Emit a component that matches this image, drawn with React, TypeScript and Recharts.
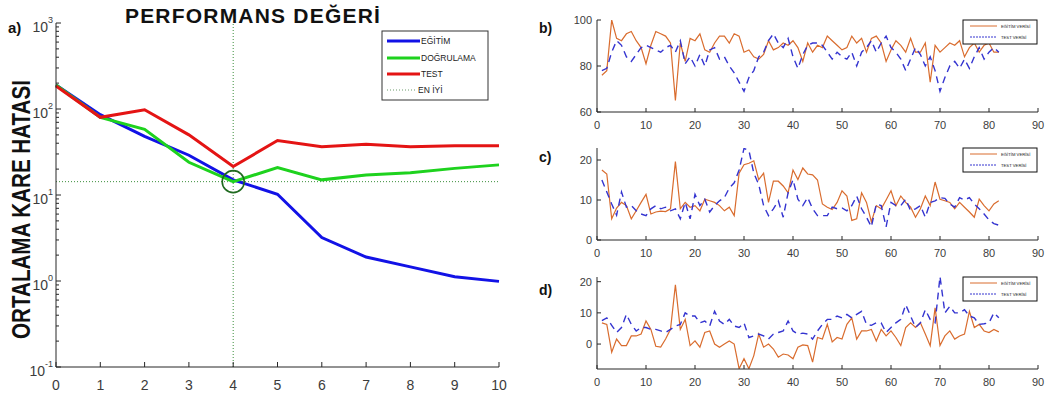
import React from 'react';
import { LineChart, Line, XAxis, YAxis, ReferenceLine, ReferenceDot } from 'recharts';

const FONT = '"Liberation Sans", Arial, sans-serif';
const AXIS = '#262626';
const LABEL = '#3c3c3c';

// a) performance curve (log scale)
const epochs = [0, 1, 2, 3, 4, 5, 6, 7, 8, 9, 10];
const egitimMse = [190, 86, 48, 29, 15, 10.2, 3.2, 1.9, 1.46, 1.12, 0.99];
const dogrulamaMse = [190, 80, 58, 24, 14.3, 20.8, 15, 17.1, 18.2, 20.4, 22.4];
const testMse = [185, 80, 98, 50, 21.4, 43, 36.5, 39, 36.5, 37.5, 37.5];
const bestEpoch = 4;
const bestMse = 14.3;
const decadeTicks = [0.1, 1, 10, 100, 1000];
const minorTicks = [
  0.2, 0.3, 0.4, 0.5, 0.6, 0.7, 0.8, 0.9,
  2, 3, 4, 5, 6, 7, 8, 9,
  20, 30, 40, 50, 60, 70, 80, 90,
  200, 300, 400, 500, 600, 700, 800, 900,
];

// b) c) d) sample series
const sampleNo = Array.from({ length: 82 }, (_, i) => i + 1);
const sampleTicks = [0, 10, 20, 30, 40, 50, 60, 70, 80, 90];

const bEgitim = [
  76, 78, 100, 92, 91, 94, 95, 91, 88, 81, 89, 95, 94, 93, 90, 65, 90, 82, 92, 91,
  94, 87, 86, 90, 93, 93, 90, 94, 93, 86, 87, 84, 83, 85, 91, 87, 88, 90, 89, 91,
  88, 82, 90, 86, 89, 88, 93, 91, 89, 87, 88, 93, 90, 92, 86, 92, 93, 90, 82, 87,
  91, 89, 86, 92, 86, 86, 90, 73, 89, 86, 88, 90, 89, 91, 84, 88, 90, 86, 89, 90,
  86, 86,
];
const bTest = [
  78, 79, 86, 91, 89, 84, 82, 85, 88, 89, 88, 87, 86, 88, 89, 86, 91, 81, 84, 80,
  85, 80, 87, 88, 83, 84, 80, 77, 73, 69, 75, 78, 84, 86, 91, 94, 90, 88, 92, 84,
  79, 85, 89, 90, 90, 89, 86, 83, 86, 84, 83, 86, 80, 86, 88, 91, 86, 90, 93, 88,
  86, 83, 78, 83, 88, 85, 80, 84, 78, 69, 75, 80, 82, 79, 83, 79, 84, 88, 83, 86,
  88, 86,
];

const cEgitim = [
  17.5, 16.5, 5.3, 8, 9.4, 8.6, 5.3, 7.3, 9.4, 11.4, 6.5, 7, 7.2, 7.1, 7.8, 19.6, 7.8, 9.4, 8.2, 8.6,
  7.3, 10.2, 9.8, 9.4, 8.6, 7.3, 8.2, 6.1, 16.7, 18.8, 19.2, 19.8, 15.1, 16.7, 9.4, 14.7, 14.7, 13.5, 11.8, 17.5,
  15.1, 18, 16.5, 16.3, 15, 9, 8.2, 7.6, 9.4, 12.3, 11, 4.9, 5.3, 11.8, 9.4, 4.5, 8.6, 7.8, 10, 12.3,
  8.6, 11, 9.4, 8.2, 5.7, 7.8, 11, 8.6, 14.5, 10.2, 9.8, 9.4, 7.8, 9.4, 8.2, 7, 5.7, 10.2, 8.6, 7.3,
  9, 9.8,
];
const cTest = [
  15, 12, 9, 6.2, 12, 8.2, 8.6, 7.3, 6.5, 6.1, 7.8, 8.6, 7.8, 8.2, 7.3, 7.8, 5.3, 9.4, 5.3, 11.4,
  8.6, 10.2, 7, 8.6, 9.8, 10.6, 13, 14.3, 17.5, 22.9, 22.4, 16.7, 13.9, 8.6, 6.1, 7.8, 9.8, 5.7, 11.8, 15.1,
  10.2, 8.6, 10.6, 7.8, 6.1, 6.1, 6.1, 8.2, 7.8, 8, 7.3, 8.6, 11, 7.8, 5.7, 3.3, 9, 8.6, 3.3, 9.4,
  8.6, 8.6, 10.2, 7.3, 7.8, 8.6, 5.7, 9.4, 9.8, 10.6, 10.4, 9, 8.2, 10.6, 10, 10.6, 9, 7.8, 6.5, 5,
  4.1, 3.7,
];

const dEgitim = [
  6.8, 6.3, -2.6, 1.6, -0.5, -0.5, 2.6, 2.6, 3.2, 7.4, 4.7, -0.7, -1, 1.6, 4.7, 19, 4.7, 7.9, -0.5, 1,
  -1, 3.7, 4.2, 0, -1, 0, 1, 0, -7.9, -4.7, -7.9, -3.7, 3.2, -1, 0, -1.6, -4.2, -3.2, -3.5, -4.7,
  -1, -0.3, -0.5, -5.8, 2.1, 1.6, 6.3, 0.7, 2.1, 1.6, 6.3, 8.4, 1.6, 4.2, 4.2, 4.7, 1, 4.7, 2.6, 4.2,
  2.1, -0.5, 5.3, 6.8, 5.3, 6.8, 3.2, -0.5, 11.6, -0.5, 2.6, 4.2, 1.6, 2.6, 3.2, 10.5, 5.3, 6.3, 4.2, 3.7,
  4.7, 3.9,
];
const dTest = [
  7.5, 8.4, 6, 3.7, 5.3, 9.5, 6.3, 4.2, 5.3, 5.3, 4.7, 4.7, 4.2, 3.7, 4.7, 5.8, 6.3, 10, 9, 9,
  6.8, 7.4, 5.8, 10.5, 7.4, 6.3, 7.9, 5.8, 5.3, 6.8, 2.1, 2.6, 3.2, 2.6, 1.6, 3.2, 3.7, 4.2, 7.4, 4.2,
  3.2, 3.5, 3.2, 1.6, 4.2, 6.3, 7.9, 7.9, 9, 8.4, 9.5, 8.4, 9.5, 10.5, 6.3, 6, 6.8, 6.8, 3.7, 5.3,
  6.8, 7.9, 12.6, 9, 5.3, 6.8, 11, 7.9, 6.8, 21.6, 10, 12.1, 10, 10, 11, 9, 8.4, 6.3, 6.5, 6.8,
  10, 8.4,
];

const perfRows = epochs.map((epoch, i) => ({
  epoch,
  egitim: egitimMse[i],
  dogrulama: dogrulamaMse[i],
  test: testMse[i],
}));

const toRows = (egitim: number[], test: number[]) =>
  sampleNo.map((n, i) => ({ n, egitim: egitim[i], test: test[i] }));

const BottomTick = (p: any) => {
  const { x, y, payload, fs = 11, gap = 13, len = 4 } = p;
  return (
    <g>
      <line x1={x} y1={y} x2={x} y2={y - len} stroke={AXIS} />
      <text x={x} y={y + gap} textAnchor="middle" dominantBaseline="central" fontSize={fs} fill={LABEL} fontFamily={FONT}>
        {payload.value}
      </text>
    </g>
  );
};

const TopTick = (p: any) => (
  <line x1={p.x} y1={p.y} x2={p.x} y2={p.y + 4} stroke={AXIS} />
);

const LeftTick = (p: any) => (
  <g>
    <line x1={p.x} y1={p.y} x2={p.x + 4} y2={p.y} stroke={AXIS} />
    <text x={p.x - 5} y={p.y} textAnchor="end" dominantBaseline="central" fontSize={11} fill={LABEL} fontFamily={FONT}>
      {p.payload.value}
    </text>
  </g>
);

const RightTick = (p: any) => (
  <line x1={p.x} y1={p.y} x2={p.x - 4} y2={p.y} stroke={AXIS} />
);

const LogTick = (p: any) => {
  const { x, y, payload } = p;
  const v = payload.value;
  const major = decadeTicks.includes(v);
  const exp = Math.round(Math.log10(v));
  return (
    <g>
      <line x1={x} y1={y} x2={x + (major ? 5 : 3)} y2={y} stroke={AXIS} />
      {major && (
        <text x={x - 3} y={y + 4} textAnchor="end" dominantBaseline="central" fontSize={14} fill={LABEL} fontFamily={FONT}>
          10<tspan dy={-7} fontSize={9}>{exp}</tspan>
        </text>
      )}
    </g>
  );
};

const SeriesPanel = ({ top, rows, yDomain, yTicks }: any) => (
  <div style={{ position: 'absolute', left: 560, top }}>
    <LineChart width={492} height={135} data={rows} margin={{ top: 20, right: 14, bottom: 3, left: 7 }}>
      <XAxis
        dataKey="n" type="number" domain={[0, 90]} ticks={sampleTicks} interval={0}
        height={20} tickSize={0} tickMargin={0} axisLine={{ stroke: AXIS }}
        tick={(p: any) => <BottomTick {...p} fs={11} gap={13} len={4} />}
      />
      <XAxis
        xAxisId="top" orientation="top" type="number" domain={[0, 90]} ticks={sampleTicks} interval={0}
        height={0} tickSize={0} tickMargin={0} axisLine={{ stroke: AXIS }} tick={TopTick}
      />
      <YAxis
        type="number" domain={yDomain} ticks={yTicks} interval={0} allowDataOverflow
        width={30} tickSize={0} tickMargin={0} axisLine={{ stroke: AXIS }} tick={LeftTick}
      />
      <YAxis
        yAxisId="right" orientation="right" type="number" domain={yDomain} ticks={yTicks} interval={0} allowDataOverflow
        width={0} tickSize={0} tickMargin={0} axisLine={{ stroke: AXIS }} tick={RightTick}
      />
      <Line dataKey="egitim" stroke="#d96c2e" strokeWidth={1.2} dot={false} isAnimationActive={false} />
      <Line dataKey="test" stroke="#3434d0" strokeWidth={1.4} strokeDasharray="7 5" dot={false} isAnimationActive={false} />
    </LineChart>
  </div>
);

const SmallLegend = ({ top }: { top: number }) => (
  <g>
    <rect x={963} y={top} width={74} height={24} fill="#fff" stroke="#111" strokeWidth={1} />
    <line x1={970} y1={top + 6} x2={997} y2={top + 6} stroke="#d96c2e" strokeWidth={1} />
    <text x={1001} y={top + 6} dominantBaseline="central" fontSize={4.2} fill="#222" fontFamily={FONT}>EĞİTİM VERİSİ</text>
    <line x1={970} y1={top + 17} x2={997} y2={top + 17} stroke="#3434d0" strokeWidth={1} strokeDasharray="2 1" />
    <text x={1001} y={top + 17} dominantBaseline="central" fontSize={4.2} fill="#222" fontFamily={FONT}>TEST VERİSİ</text>
  </g>
);

export default function App() {
  return (
    <div style={{ position: 'absolute', left: 0, top: 0, width: 1052, height: 396, background: '#fff', overflow: 'hidden', fontFamily: FONT }}>
      <div style={{ position: 'absolute', left: 0, top: 0 }}>
        <LineChart width={520} height={396} data={perfRows} margin={{ top: 23, right: 21, bottom: 4, left: 16 }}>
          <XAxis
            dataKey="epoch" type="number" domain={[0, 10]} ticks={epochs} interval={0}
            height={25} tickSize={0} tickMargin={0} axisLine={{ stroke: AXIS }}
            tick={(p: any) => <BottomTick {...p} fs={14} gap={18} len={5} />}
          />
          <YAxis
            type="number" scale="log" domain={[0.1, 1000]} ticks={[...decadeTicks, ...minorTicks]} interval={0}
            allowDataOverflow width={40} tickSize={0} tickMargin={0} axisLine={{ stroke: AXIS }} tick={LogTick}
          />
          <ReferenceLine x={bestEpoch} stroke="#3c8f3c" strokeDasharray="1 2" strokeWidth={1} />
          <ReferenceLine y={bestMse} stroke="#3c8f3c" strokeDasharray="1 2" strokeWidth={1} />
          <Line dataKey="egitim" stroke="#1212e6" strokeWidth={3} dot={false} isAnimationActive={false} />
          <Line dataKey="dogrulama" stroke="#1ed21e" strokeWidth={3} dot={false} isAnimationActive={false} />
          <Line dataKey="test" stroke="#e41414" strokeWidth={3} dot={false} isAnimationActive={false} />
          <ReferenceDot x={bestEpoch} y={bestMse} r={11} fill="none" stroke="#1f6a1f" strokeWidth={1.6} />
        </LineChart>
      </div>

      <SeriesPanel top={0} rows={toRows(bEgitim, bTest)} yDomain={[60, 100]} yTicks={[60, 80, 100]} />
      <SeriesPanel top={128} rows={toRows(cEgitim, cTest)} yDomain={[0, 23]} yTicks={[0, 10, 20]} />
      <SeriesPanel top={257} rows={toRows(dEgitim, dTest)} yDomain={[-8, 21.5]} yTicks={[0, 10, 20]} />

      <svg width={1052} height={396} style={{ position: 'absolute', left: 0, top: 0, pointerEvents: 'none' }}>
        <text x={253} y={23} textAnchor="middle" fontSize={21} fontWeight={700} letterSpacing={1.2} fill="#111" fontFamily={FONT}>
          PERFORMANS DEĞERİ
        </text>
        <text
          transform="translate(29.5,209.5) rotate(-90) scale(1,1.25)"
          textAnchor="middle" fontSize={20.6} fontWeight={700} fill="#111" fontFamily={FONT}
        >
          ORTALAMA KARE HATASI
        </text>
        <text x={8} y={33} fontSize={15} fontWeight={700} fill="#111" fontFamily={FONT}>a)</text>
        <text x={539} y={33} fontSize={14} fontWeight={700} fill="#111" fontFamily={FONT}>b)</text>
        <text x={539} y={162} fontSize={14} fontWeight={700} fill="#111" fontFamily={FONT}>c)</text>
        <text x={539} y={295} fontSize={14} fontWeight={700} fill="#111" fontFamily={FONT}>d)</text>

        <rect x={382} y={31} width={106} height={69} fill="#fff" stroke="#333" strokeWidth={1} />
        <line x1={387} y1={41} x2={420} y2={41} stroke="#1212e6" strokeWidth={3} />
        <text x={421} y={41} dominantBaseline="central" fontSize={8.5} fill="#222" fontFamily={FONT}>EĞİTİM</text>
        <line x1={387} y1={58} x2={420} y2={58} stroke="#1ed21e" strokeWidth={3} />
        <text x={421} y={58} dominantBaseline="central" fontSize={8.5} fill="#222" fontFamily={FONT}>DOĞRULAMA</text>
        <line x1={387} y1={74} x2={420} y2={74} stroke="#e41414" strokeWidth={3} />
        <text x={421} y={74} dominantBaseline="central" fontSize={8.5} fill="#222" fontFamily={FONT}>TEST</text>
        <line x1={387} y1={90} x2={416} y2={90} stroke="#6a9a6a" strokeWidth={1} strokeDasharray="1 2" />
        <text x={418} y={90} dominantBaseline="central" fontSize={8.5} fill="#222" fontFamily={FONT}>EN İYİ</text>

        <SmallLegend top={20} />
        <SmallLegend top={148} />
        <SmallLegend top={277} />
      </svg>
    </div>
  );
}
